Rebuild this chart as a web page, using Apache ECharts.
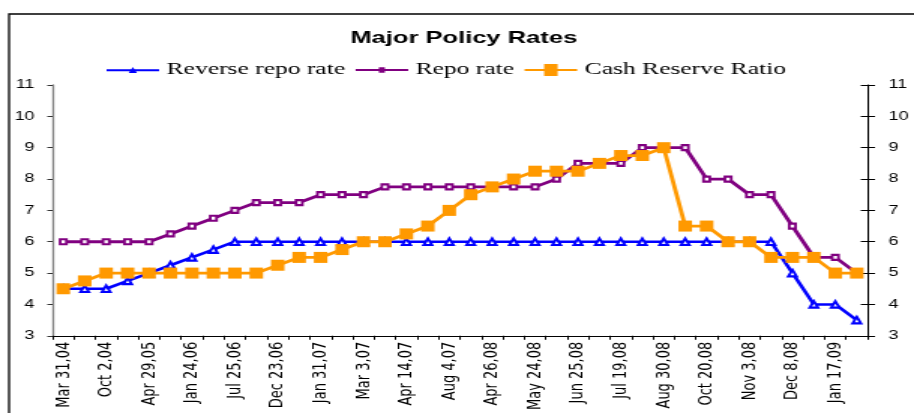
<!DOCTYPE html>
<html>
<head>
<meta charset="utf-8">
<script src="https://cdn.jsdelivr.net/npm/echarts@6/dist/echarts.min.js"></script>
<style>
html,body{margin:0;padding:0;width:914px;height:413px;overflow:hidden;background:#fff;}
#chart{width:609px;height:413px;transform:scaleX(1.500821);transform-origin:0 0;}
</style>
</head>
<body>
<div id="chart"></div>
<script>
// ---- data ----
const categories = [
  'Mar 31,04','Sep 18,04','Oct 2,04','Oct 27,04','Apr 29,05','Oct 26,05','Jan 24,06','Jun 9,06',
  'Jul 25,06','Oct 31,06','Dec 23,06','Jan 6,07','Jan 31,07','Feb 17,07','Mar 3,07','Mar 31,07',
  'Apr 14,07','Apr 28,07','Aug 4,07','Nov 10,07','Apr 26,08','May 10,08','May 24,08','Jun 12,08',
  'Jun 25,08','Jul 5,08','Jul 19,08','Jul 30,08','Aug 30,08','Oct 11,08','Oct 20,08','Oct 25,08',
  'Nov 3,08','Nov 8,08','Dec 8,08','Jan 5,09','Jan 17,09','Mar 5,09'
];
const reverseRepoRate = [
  4.5,4.5,4.5,4.75,5.0,5.25,5.5,5.75,
  6,6,6,6,6,6,6,6,
  6,6,6,6,6,6,6,6,
  6,6,6,6,6,6,6,6,
  6,6,5.0,4.0,4.0,3.5
];
const repoRate = [
  6,6,6,6,6,6.25,6.5,6.75,
  7,7.25,7.25,7.25,7.5,7.5,7.5,7.75,
  7.75,7.75,7.75,7.75,7.75,7.75,7.75,8.0,
  8.5,8.5,8.5,9,9,9,8,8,
  7.5,7.5,6.5,5.5,5.5,5.0
];
const cashReserveRatio = [
  4.5,4.75,5,5,5,5,5,5,
  5,5,5.25,5.5,5.5,5.75,6,6,
  6.25,6.5,7,7.5,7.75,8,8.25,8.25,
  8.25,8.5,8.75,8.75,9,6.5,6.5,6,
  6,5.5,5.5,5.5,5,5
];
const seriesNames = ['Reverse repo rate','Repo rate','Cash Reserve Ratio'];
const yMin = 3, yMax = 11, yInterval = 1;
const titleText = 'Major Policy Rates';

// ---- chart ----
const chart = echarts.init(document.getElementById('chart'), null, {renderer:'canvas'});
const sans = 'Liberation Sans, Arial, sans-serif';
const blue = '#0000FF', purple = '#800080', orange = '#FF9900';

const yAxisBase = {
  type:'value', min:yMin, max:yMax, interval:yInterval,
  splitLine:{show:false}
};

const option = {
  animation:false,
  backgroundColor:'#ffffff',
  graphic:[{
    type:'rect', silent:true, z:-10,
    shape:{x:6, y:14, width:700, height:500},
    style:{fill:'none', stroke:'#000', lineWidth:1.3}
  }],
  title:{
    text:titleText, left:309, top:29.5, textAlign:'center', padding:0,
    textStyle:{fontFamily:sans, fontWeight:'bold', fontSize:17, color:'#000'}
  },
  legend:{
    left:71, top:61.5, padding:0, orient:'horizontal',
    itemWidth:35, itemHeight:12, itemGap:7,
    textStyle:{fontFamily:'Liberation Serif, Times New Roman, serif', fontSize:17, color:'#000'},
    data:[
      {name:seriesNames[0], icon:'path://M0,2.2L35,2.2L35,4.2L0,4.2Z M17.5,0L20.3,6L14.7,6Z',
       itemStyle:{color:blue, borderWidth:0}},
      {name:seriesNames[1], icon:'path://M0,1.7L35,1.7L35,3.7L0,3.7Z M15.5,0L19.5,0L19.5,5.4L15.5,5.4Z',
       itemStyle:{color:purple, borderWidth:0}},
      {name:seriesNames[2], icon:'path://M0,5L35,5L35,7L0,7Z M13,0L22,0L22,12L13,12Z',
       itemStyle:{color:orange, borderWidth:0}}
    ]
  },
  grid:{left:35, right:31, top:85, bottom:75, containLabel:false},
  xAxis:{
    type:'category', data:categories, boundaryGap:true,
    axisLine:{show:true, lineStyle:{color:'#000', width:1}},
    axisTick:{show:true, interval:0, length:4, lineStyle:{color:'#000'}},
    axisLabel:{interval:1, rotate:90, fontFamily:'DejaVu Sans, sans-serif', fontSize:13,
      color:'#000', margin:6, padding:[0,0,6,0]},
    splitLine:{show:false}
  },
  yAxis:[
    Object.assign({}, yAxisBase, {
      position:'left',
      axisLine:{show:true, lineStyle:{color:'#7f7f7f', width:1.3}},
      axisTick:{show:true, length:3.5, lineStyle:{color:'#333'}},
      axisLabel:{color:'#000', fontSize:12, fontFamily:sans, margin:12}
    }),
    Object.assign({}, yAxisBase, {
      position:'right',
      axisLine:{show:true, lineStyle:{color:'#000', width:1}},
      axisTick:{show:true, length:5, lineStyle:{color:'#000'}},
      axisLabel:{color:'#000', fontSize:12, fontFamily:sans, margin:14}
    }),
    Object.assign({}, yAxisBase, {
      position:'right',
      axisLine:{show:false},
      axisTick:{show:true, inside:true, length:4.5, lineStyle:{color:'#000'}},
      axisLabel:{show:false}
    })
  ],
  series:[
    {
      name:seriesNames[0], type:'line', data:reverseRepoRate, yAxisIndex:0,
      symbol:'emptyTriangle', symbolSize:[5.5,6.5], showAllSymbol:true,
      color:blue, lineStyle:{color:blue, width:2.6},
      itemStyle:{color:blue, borderColor:blue, borderWidth:1.1}, z:2
    },
    {
      name:seriesNames[1], type:'line', data:repoRate, yAxisIndex:0,
      symbol:'emptyRect', symbolSize:[4.2,5], showAllSymbol:true,
      color:purple, lineStyle:{color:purple, width:2.8},
      itemStyle:{color:purple, borderColor:purple, borderWidth:1.1}, z:3
    },
    {
      name:seriesNames[2], type:'line', data:cashReserveRatio, yAxisIndex:0,
      symbol:'rect', symbolSize:[9,11], showAllSymbol:true,
      color:orange, lineStyle:{color:orange, width:2.8},
      itemStyle:{color:orange, borderWidth:0}, z:4
    }
  ]
};
chart.setOption(option);
</script>
</body>
</html>
